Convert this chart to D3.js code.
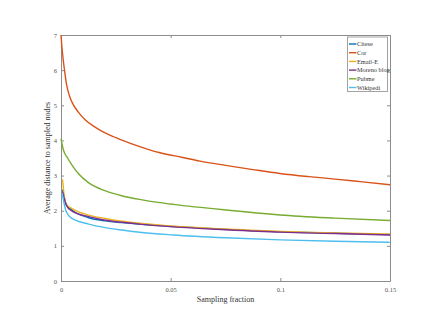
<!DOCTYPE html>
<html>
<head>
<meta charset="utf-8">
<script src="https://cdn.jsdelivr.net/npm/d3@7"></script>
<style>
  body { margin: 0; background: #fff; }
  svg { display: block; font-family: "Liberation Serif", "DejaVu Serif", serif; }
</style>
</head>
<body>
<svg id="chart" width="436" height="327"></svg>
<script>
// data
var names = ["Citese", "Cor", "Email-E", "Moreno blog", "Pubme", "Wikipedi"];
var colors = ["#0072BD", "#D95319", "#EDB120", "#7E2F8E", "#77AC30", "#4DBEEE"];
var xTicks = [0, 0.05, 0.1, 0.15];
var yTicks = [0, 1, 2, 3, 4, 5, 6, 7];

var citeseer = [[0.0007,2.6],[0.0024,2.18],[0.005,2.02],[0.0126,1.8],[0.0202,1.71],[0.0278,1.66],[0.0369,1.61],[0.0513,1.55],[0.075,1.47],[0.1,1.4],[0.125,1.36],[0.15,1.32]];
var cora = [[0,7.0],[0.0005,6.6],[0.001,6.3],[0.0016,6.0],[0.0025,5.6],[0.0038,5.28],[0.005,5.09],[0.008,4.8],[0.011,4.59],[0.015,4.4],[0.0187,4.26],[0.025,4.08],[0.0323,3.9],[0.04,3.74],[0.0452,3.65],[0.055,3.52],[0.0634,3.41],[0.075,3.29],[0.0875,3.17],[0.0998,3.06],[0.113,2.97],[0.125,2.9],[0.1375,2.82],[0.15,2.74]];
var email = [[0.0007,2.89],[0.0015,2.4],[0.0024,2.18],[0.005,2.06],[0.0126,1.875],[0.0202,1.78],[0.0278,1.7],[0.0369,1.64],[0.0513,1.56],[0.075,1.48],[0.1,1.41],[0.125,1.37],[0.15,1.34]];
var moreno = [[0.0007,2.54],[0.0024,2.16],[0.005,1.99],[0.0126,1.83],[0.0202,1.73],[0.0278,1.67],[0.0369,1.61],[0.0513,1.54],[0.075,1.46],[0.1,1.39],[0.125,1.35],[0.15,1.31]];
var pubmed = [[0,4.05],[0.001,3.75],[0.003,3.5],[0.005,3.3],[0.008,3.05],[0.0125,2.8],[0.02,2.57],[0.028,2.42],[0.037,2.31],[0.0452,2.23],[0.0513,2.18],[0.075,2.02],[0.0998,1.88],[0.125,1.79],[0.15,1.72]];
var wiki = [[0.0005,2.51],[0.0024,1.97],[0.005,1.78],[0.0126,1.62],[0.0202,1.52],[0.0278,1.45],[0.0369,1.38],[0.0513,1.31],[0.075,1.23],[0.1,1.17],[0.125,1.13],[0.15,1.1]];
var series = [citeseer, cora, email, moreno, pubmed, wiki];

var svg = d3.select("#chart");
var plotL = 61, plotR = 390, plotT = 35, plotB = 281;

var x = d3.scaleLinear().domain([0, 0.15]).range([plotL, plotR]);
var y = d3.scaleLinear().domain([0, 7]).range([plotB, plotT]);

var axisColor = "#8c8c8c";
var fmt = function(d) { return d === 0 ? "0" : String(+d.toFixed(2)); };

// axes with inward ticks, MATLAB style box
function styleAxis(g) {
    g.select(".domain").attr("stroke", axisColor);
    g.selectAll(".tick line").attr("stroke", axisColor);
    g.selectAll(".tick text").attr("fill", "#555").attr("font-size", 6.5)
        .attr("font-family", "Liberation Serif, serif");
}

svg.append("g").attr("transform", "translate(0," + plotB + ")")
    .call(d3.axisBottom(x).tickValues(xTicks).tickFormat(fmt).tickSize(-3).tickSizeOuter(0).tickPadding(6))
    .call(styleAxis);
svg.append("g").attr("transform", "translate(0," + plotT + ")")
    .call(d3.axisTop(x).tickValues(xTicks).tickFormat("").tickSize(-3).tickSizeOuter(0))
    .call(styleAxis);
svg.append("g").attr("transform", "translate(" + plotL + ",0)")
    .call(d3.axisLeft(y).tickValues(yTicks).tickFormat(d3.format("d")).tickSize(-3).tickSizeOuter(0).tickPadding(4))
    .call(styleAxis);
svg.append("g").attr("transform", "translate(" + plotR + ",0)")
    .call(d3.axisRight(y).tickValues(yTicks).tickFormat("").tickSize(-3).tickSizeOuter(0))
    .call(styleAxis);

var line = d3.line()
    .x(function(d) { return x(d[0]); })
    .y(function(d) { return y(d[1]); })
    .curve(d3.curveMonotoneX);

series.forEach(function(s, i) {
    svg.append("path")
        .attr("d", line(s))
        .attr("fill", "none")
        .attr("stroke", colors[i])
        .attr("stroke-width", 1.4);
});

// axis labels
svg.append("text")
    .attr("x", (plotL + plotR) / 2).attr("y", 302)
    .attr("text-anchor", "middle").attr("font-size", 8).attr("fill", "#333")
    .text("Sampling fraction");
svg.append("text")
    .attr("transform", "translate(50," + (plotT + plotB) / 2 + ") rotate(-90)")
    .attr("text-anchor", "middle").attr("font-size", 8).attr("fill", "#333")
    .text("Average distance to sampled nodes");

// legend
var lg = svg.append("g").attr("transform", "translate(347.5,37)");
lg.append("rect").attr("width", 40).attr("height", 54.5)
    .attr("fill", "#fff").attr("stroke", axisColor).attr("stroke-width", 0.8);
names.forEach(function(n, i) {
    var ly = 7 + i * 8.7;
    lg.append("line").attr("x1", 1.5).attr("x2", 9).attr("y1", ly).attr("y2", ly)
        .attr("stroke", colors[i]).attr("stroke-width", 1.4);
    lg.append("text").attr("x", 9.5).attr("y", ly + 2.2)
        .attr("font-size", 6.3).attr("fill", "#333").text(n);
});
</script>
</body>
</html>
